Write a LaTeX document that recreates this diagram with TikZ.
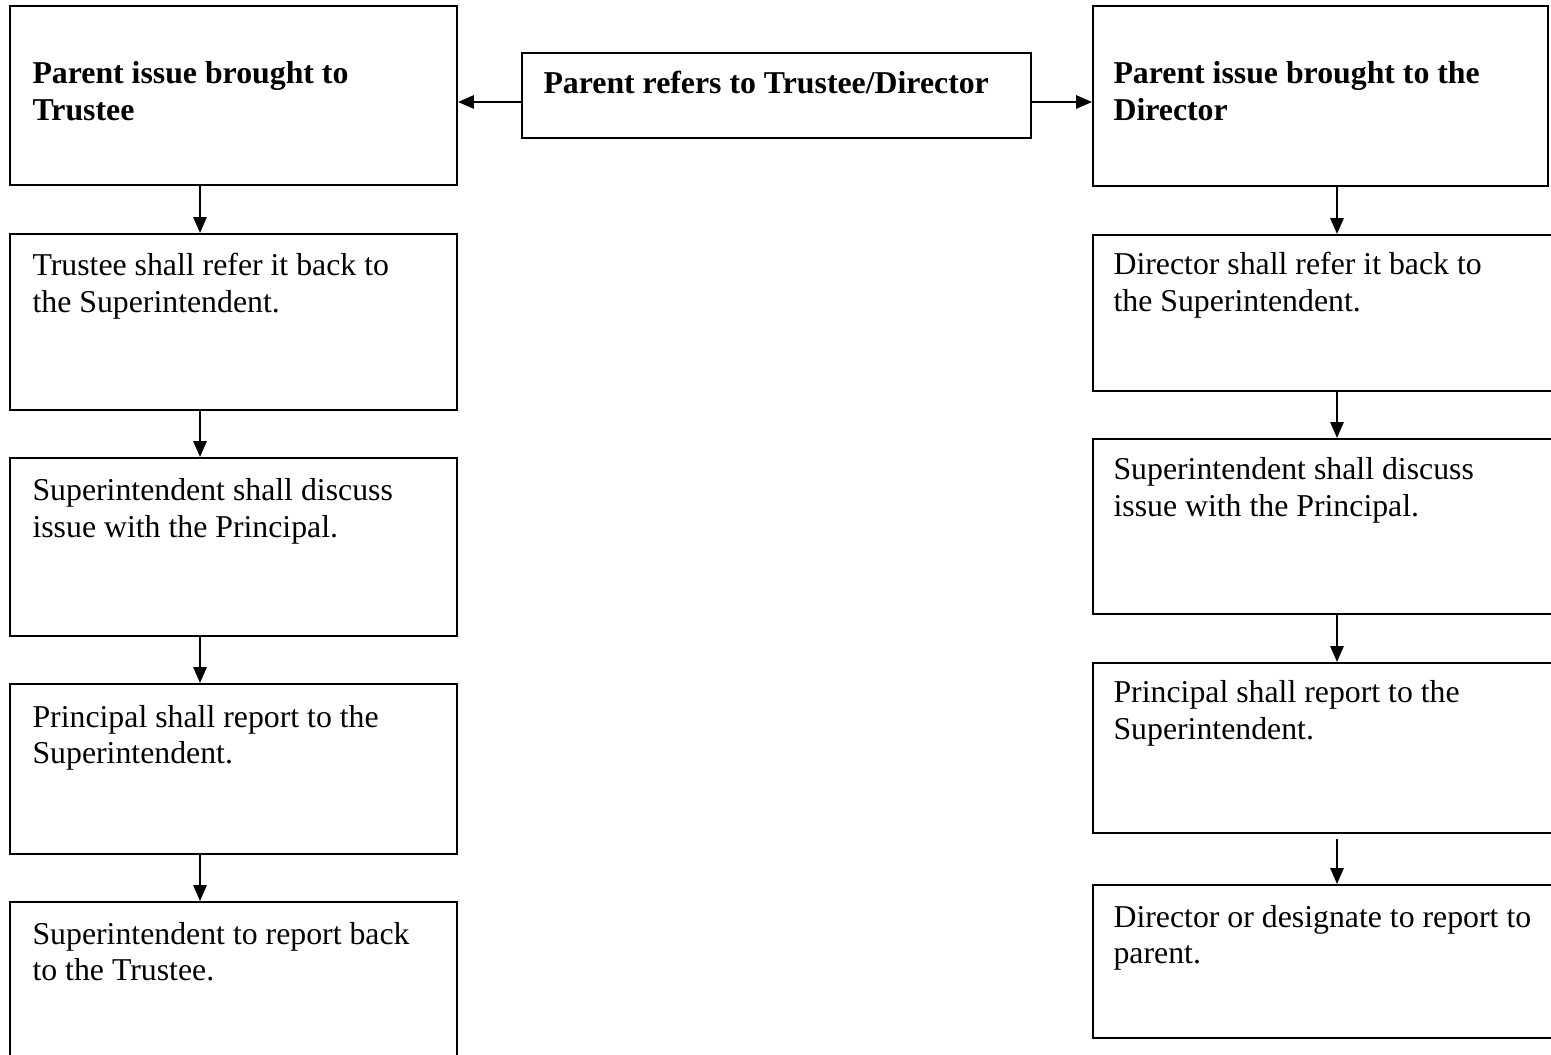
\documentclass[tikz,border=0pt]{standalone}
\usepackage{fontspec}
\setmainfont{Liberation Serif}
\usetikzlibrary{fit,arrows.meta}
\newcommand\boxtextfont{\fontsize{12}{13.9}\selectfont}
\newcommand\boxtextspace{\spaceskip=3pt plus 1pt minus 0.5pt\relax}
\begin{document}
\begin{tikzpicture}[x=0.3774pt,y=-0.3774pt,
  box/.style={draw, line width=0.75pt, rectangle, inner sep=0pt},
  txt/.style={anchor=base west, inner sep=0pt, align=left, text width=190pt,
    font=\boxtextfont, execute at begin node=\boxtextspace},
  arr/.style={line width=0.75pt, -{Triangle[length=6pt,width=5pt]}}]
\useasboundingbox (0,0) rectangle (1551,1055);
\clip (0,0) rectangle (1551,1055);
% left column
\node[box, fit={(10,6)(457,185)}] (L1) {};
\node[box, fit={(10,234)(457,410)}] (L2) {};
\node[box, fit={(10,458)(457,636)}] (L3) {};
\node[box, fit={(10,684)(457,854)}] (L4) {};
\node[box, fit={(10,902)(457,1070)}] (L5) {};
% middle
\node[box, fit={(522,53)(1031,138)}] (M) {};
% right column
\node[box, fit={(1093,6)(1548,186)}] (R1) {};
\node[box, fit={(1093,235)(1570,391)}] (R2) {};
\node[box, fit={(1093,439)(1570,614)}] (R3) {};
\node[box, fit={(1093,663)(1570,833)}] (R4) {};
\node[box, fit={(1093,885)(1570,1038)}] (R5) {};
% texts
\node[txt] (L1t) at (32,84) {\bfseries Parent issue brought to\\Trustee};
\node[txt] (L2t) at (32,276) {Trustee shall refer it back to\\the Superintendent.};
\node[txt] (L3t) at (32,501) {Superintendent shall discuss\\issue with the Principal.};
\node[txt] (L4t) at (32,727) {Principal shall report to the\\Superintendent.};
\node[txt] (L5t) at (32,944) {Superintendent to report back\\to the Trustee.};
\node[txt] (Mt) at (543,94) {\bfseries Parent refers to Trustee/Director};
\node[txt] (R1t) at (1113,84) {\bfseries Parent issue brought to the\\Director};
\node[txt] (R2t) at (1113,275) {Director shall refer it back to\\the Superintendent.};
\node[txt] (R3t) at (1113,480) {Superintendent shall discuss\\issue with the Principal.};
\node[txt] (R4t) at (1113,703) {Principal shall report to the\\Superintendent.};
\node[txt] (R5t) at (1113,927) {Director or designate to report to\\parent.};
% connector guide coordinates
\coordinate (xl) at (200,0);
\coordinate (xr) at (1337,0);
\coordinate (ym) at (0,102);
% connectors
\draw[arr] (M.west |- ym) -- (L1.east |- ym);
\draw[arr] (M.east |- ym) -- (R1.west |- ym);
\draw[arr] (L1.south -| xl) -- (L2.north -| xl);
\draw[arr] (L2.south -| xl) -- (L3.north -| xl);
\draw[arr] (L3.south -| xl) -- (L4.north -| xl);
\draw[arr] (L4.south -| xl) -- (L5.north -| xl);
\draw[arr] (R1.south -| xr) -- (R2.north -| xr);
\draw[arr] (R2.south -| xr) -- (R3.north -| xr);
\draw[arr] (R3.south -| xr) -- (R4.north -| xr);
\draw[arr, shorten <=2pt] (R4.south -| xr) -- (R5.north -| xr);
\end{tikzpicture}
\end{document}
